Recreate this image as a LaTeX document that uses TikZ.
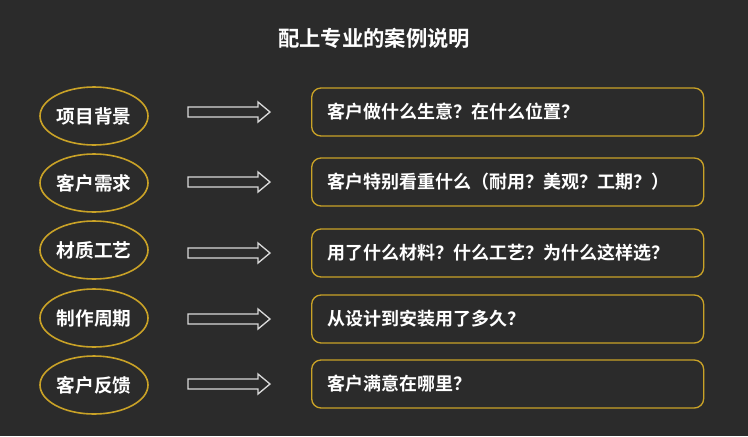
\documentclass[tikz,border=0pt]{standalone}
\usepackage{fontspec}
\setmainfont{Noto Sans CJK SC}[BoldFont={* Bold}]
\usetikzlibrary{shapes.geometric}
\definecolor{bg}{HTML}{2B2B2B}
\definecolor{gold}{HTML}{C9A227}
\begin{document}
\begin{tikzpicture}[x=0.75pt,y=-0.75pt,
  oval/.style={draw=gold,line width=1.2pt,ellipse,minimum width=108*0.75pt,minimum height=58*0.75pt,inner sep=0pt,text=white,font=\fontsize{14}{16}\selectfont\bfseries},
  card/.style={draw=gold,line width=1pt,rounded corners=7pt,minimum height=48*0.75pt,anchor=west,text=white,font=\fontsize{13.5}{16}\selectfont\bfseries,align=left,text width=270pt,inner xsep=12pt},
  harrow/.style={draw=white!85!black,line width=1pt}]
\fill[bg] (0,0) rectangle (748,436);
\useasboundingbox (0,0) rectangle (748,436);
\node[text=white,font=\fontsize{16}{19}\selectfont\bfseries] (title) at (374,38) {配上专业的案例说明};
\foreach \i/\ye/\yb/\a/\b in {1/116/112/项目背景/客户做什么生意？在什么位置？,
  2/183/182/客户需求/客户特别看重什么（耐用？美观？工期？）,
  3/250/253/材质工艺/用了什么材料？什么工艺？为什么这样选？,
  4/318/319/制作周期/从设计到安装用了多久？,
  5/385/384/客户反馈/客户满意在哪里？}{
  \node[oval] (e\i) at (94,\ye) {\a};
  \coordinate (ar\i) at (188,\yb);
  \draw[harrow] (ar\i) ++(0,-5) -- ++(70,0) -- ++(0,-5) -- ++(12,10) -- ++(-12,10) -- ++(0,-5) -- ++(-70,0) -- cycle;
  \node[card] (c\i) at (311,\yb) {\b};
}
\end{tikzpicture}
\end{document}
